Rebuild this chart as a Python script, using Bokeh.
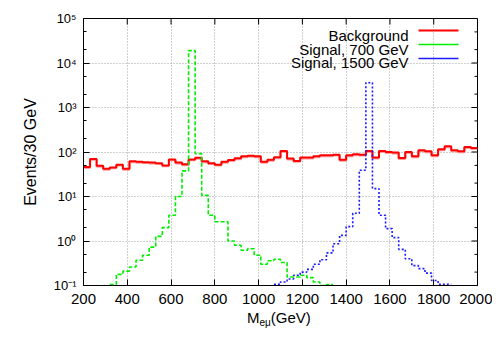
import math
from bokeh.plotting import figure
from bokeh.layouts import column
from bokeh.models import (Range1d, FixedTicker, CustomJSTickFormatter, Label, BoxAnnotation, Div)
from bokeh.embed import file_html
from bokeh.resources import INLINE

# ---------------- data ----------------
bin_width = 30
bg_start = 200
background = [46, 70, 49, 42, 45, 52, 42, 62, 60, 59,
              58, 56, 50, 68, 58, 53, 68, 74, 62, 56,
              52, 60, 66, 72, 80, 82, 80, 60, 67, 76,
              105, 71, 63, 75, 75, 80, 84, 84, 87, 67,
              84, 89, 87, 105, 75, 105, 100, 97, 73, 100,
              80, 109, 104, 84, 115, 134, 109, 104, 129, 123]
sig700_start = 320
signal700 = [0.105, 0.178, 0.21, 0.26, 0.37, 0.48, 0.73, 1.27, 2.0, 3.8,
             10.0, 37.6, 19000, 92, 10.6, 3.8, 2.7, 2.7, 1.0, 0.80,
             0.62, 0.67, 0.48, 0.30, 0.36, 0.39, 0.33, 0.155, 0.155, 0.17,
             0.15, 0.12, 0.10, 0.105]
sig1500_start = 1070
signal1500 = [0.106, 0.12, 0.14, 0.17, 0.20, 0.23, 0.30, 0.38, 0.54, 0.87,
              1.34, 2.1, 4.2, 39, 3600, 15, 3.8, 1.9, 1.19, 0.65,
              0.40, 0.28, 0.24, 0.19, 0.13, 0.107, 0.107]
x_ticks = [200, 400, 600, 800, 1000, 1200, 1400, 1600, 1800, 2000]
y_ticks = [1e-1, 1e0, 1e1, 1e2, 1e3, 1e4, 1e5]
y_minor = [m * d for d in [1e-1, 1e0, 1e1, 1e2, 1e3, 1e4] for m in (2, 5)]
legend_names = ["Background", "Signal, 700 GeV", "Signal, 1500 GeV"]
x_title_main, x_title_sub, x_title_unit = "M", "eμ", "(GeV)"
X_MIN, X_MAX = 200, 2000
Y_MIN, Y_MAX = 0.1, 1e5


def step_xy(start, vals):
    edges = [start + bin_width * i for i in range(len(vals) + 1)]
    ys = list(vals) + [vals[-1]]
    return edges, ys


FONT = "Liberation Sans"

p = figure(width=492, height=312, x_range=Range1d(X_MIN, X_MAX),
           y_range=Range1d(Y_MIN, Y_MAX), y_axis_type="log",
           output_backend="svg", toolbar_location=None,
           min_border_left=83, min_border_right=15,
           min_border_top=18, min_border_bottom=27)
p.background_fill_color = "white"
p.border_fill_color = "white"
p.outline_line_color = "black"
p.outline_line_width = 1

# grid
for g in (p.xgrid, p.ygrid):
    g.grid_line_color = "#a0a0a0"
    g.grid_line_dash = "1 2"
    g.grid_line_width = 1
p.xgrid.ticker = FixedTicker(ticks=x_ticks)
p.ygrid.ticker = FixedTicker(ticks=y_ticks)

sup_js = """
const sup = {"0":"\\u2070","1":"\\u00b9","2":"\\u00b2","3":"\\u00b3","4":"\\u2074",
             "5":"\\u2075","6":"\\u2076","7":"\\u2077","8":"\\u2078","9":"\\u2079","-":"\\u207b"};
const e = Math.round(Math.log10(tick));
return "10" + String(e).split("").map(c => sup[c]).join("");
"""

# bottom axis
xa = p.xaxis[0]
xa.ticker = FixedTicker(ticks=x_ticks, minor_ticks=[])
xa.major_label_text_font = FONT
xa.major_label_text_font_size = "15px"
xa.major_label_text_color = "black"
xa.major_tick_in = 6
xa.major_tick_out = 0
xa.minor_tick_line_color = None
xa.major_label_standoff = 8
xa.axis_line_color = "black"

# left axis
ya = p.yaxis[0]
ya.ticker = FixedTicker(ticks=y_ticks, minor_ticks=y_minor)
ya.formatter = CustomJSTickFormatter(code=sup_js)
ya.major_label_text_font = FONT
ya.major_label_text_font_size = "13px"
ya.major_label_text_color = "black"
ya.major_tick_in = 6
ya.major_tick_out = 0
ya.minor_tick_in = 3
ya.minor_tick_out = 0
ya.major_label_standoff = 7
ya.axis_line_color = "black"
ya.axis_label = "Events/30 GeV"
ya.axis_label_text_font = FONT
ya.axis_label_text_font_size = "16px"
ya.axis_label_text_font_style = "normal"
ya.axis_label_text_color = "black"
ya.axis_label_standoff = 12

# mirrored tick marks on the top and right edges
p.ray(x=x_ticks, y=[Y_MAX] * len(x_ticks), length=6, length_units="screen",
      angle=-math.pi / 2, line_color="black", line_width=1)
p.ray(x=[X_MAX] * len(y_ticks), y=y_ticks, length=6, length_units="screen",
      angle=math.pi, line_color="black", line_width=1)
p.ray(x=[X_MAX] * len(y_minor), y=y_minor, length=3, length_units="screen",
      angle=math.pi, line_color="black", line_width=1)

# ---------------- histograms ----------------
GREEN = "#00ee00"
BLUE = "#1a1aff"
bx, by = step_xy(bg_start, background)
p.step(bx, [v * 0.955 for v in by], mode="after", line_color="#ff9c9c", line_width=2)
p.step(bx, by, mode="after", line_color="#ff0000", line_width=2)

gx, gy = step_xy(sig700_start, signal700)
p.step(gx, gy, mode="after", line_color=GREEN, line_width=1.6, line_dash="4 2")

sx, sy = step_xy(sig1500_start, signal1500)
p.step(sx, sy, mode="after", line_color=BLUE, line_width=1.6, line_dash="2 2")

# ---------------- legend (gnuplot style: text then sample) ----------------
styles = [dict(line_color="#ff0000", line_width=2, line_dash="solid"),
          dict(line_color=GREEN, line_width=1.6, line_dash="4 2"),
          dict(line_color=BLUE, line_width=1.6, line_dash="2 2")]
text_rows = [250, 236.5, 223]
line_rows = [255, 241, 227]
for name, st, ty, ly in zip(legend_names, styles, text_rows, line_rows):
    p.add_layout(Label(x=325, y=ty, x_units="screen", y_units="screen", text=name,
                       text_align="right", text_baseline="middle",
                       text_font=FONT, text_font_size="15px", text_color="black"))
    p.add_layout(BoxAnnotation(left=335, right=375, top=ly, bottom=ly,
                               left_units="screen", right_units="screen",
                               top_units="screen", bottom_units="screen",
                               fill_alpha=0, line_alpha=1, **st))

# ---------------- x axis title with subscript (HTML text below the plot) ----------------
x_title = Div(
    text=(f'<div style="position:relative;top:-3px;padding-left:247px;'
          f'font-family:\'Liberation Sans\',Arial,sans-serif;font-size:15px;'
          f'line-height:18px;color:black;white-space:nowrap;">'
          f'{x_title_main}<span style="font-size:10px;position:relative;top:3px;">'
          f'{x_title_sub}</span>{x_title_unit}</div>'),
    width=492, height=24, margin=0)

layout = column(p, x_title, spacing=0)
open("out.html", "w", encoding="utf-8").write(file_html(layout, INLINE))
